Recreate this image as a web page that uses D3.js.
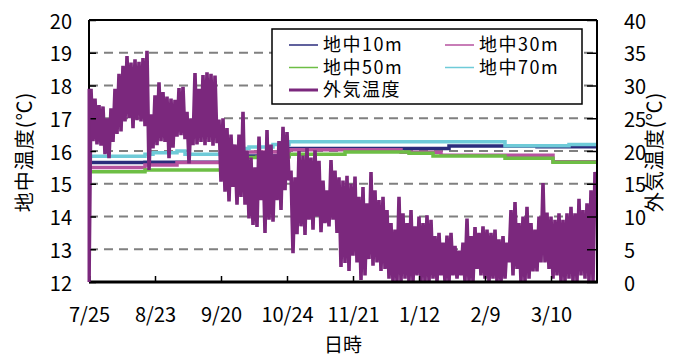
<!DOCTYPE html>
<html><head><meta charset="utf-8">
<script src="https://cdn.jsdelivr.net/npm/d3@7/dist/d3.min.js"></script>
<style>
html,body{margin:0;padding:0;background:#fff;}
text{font-family:"Noto Sans CJK JP","Noto Sans",sans-serif;fill:#000;}
</style></head>
<body><svg id="c" width="678" height="358"></svg>
<script>
// ---- data ----
const tickLabels = ["7/25","8/23","9/20","10/24","11/21","1/12","2/9","3/10"];
const tickIndex = [0,33,66,99,132,165,198,231];
const leftTicks = [12,13,14,15,16,17,18,19,20];
const rightTicks = [0,5,10,15,20,25,30,35,40];
const seriesNames = ["地中10m","地中30m","地中50m","地中70m","外気温度"];

// outdoor temperature (right axis), one value per index step
const outdoor = [
0,29.5,21.5,28,21,27,20.8,26.8,19.5,25,
18.9,26.5,21.4,29.5,22.6,31.8,23,33,24.5,34.5,
25,33.5,23.5,34,24.7,33.6,24.5,34.2,23.8,35.3,
17.1,25.6,20.4,28.5,20.9,30.5,21.5,29,21.4,28.3,
18.9,28,20.5,27.8,22.2,29.6,22.4,29.8,21.8,26,
18.1,25,20.9,31.9,21,29.5,21.4,31.6,20.9,32,
21.4,31.8,20.8,31.5,21.2,24.8,15.3,25,13.8,23.5,
12.3,22.5,14.5,21,11.8,22.5,13,26,11.8,20,
9.7,19,8.7,17.5,8.4,22.2,12.5,20,7.5,23.2,
9.5,21,9.2,19.5,12.5,21.5,11,23.7,14,22.9,
15.5,17,4.4,16,7.3,20,8.5,19.3,7.2,20.5,
9.5,19,8,20.1,10,18.5,7.6,15.5,9,14,
8.5,18.6,9.5,17,7.5,16,2.3,15.5,2.9,16.2,
1.7,15,4,16.1,3,13,0.3,14.5,1,12,
3.5,16.8,2.5,14,3,12.5,1.7,13,2,11,
0.5,9,0,8,0,13,0,10.5,0.5,9,
0,11,0,8.5,1,10,0,9,0,10.2,
0,9.5,0.5,7,0,7.5,1,6,0,7.1,
0,7.5,1,5.5,0.5,4.8,1,6,0,9.7,
0,7,0,8.4,2,7.5,1,8.5,0.5,8,
0,7.5,0.5,8,0,6.5,0,7,0.5,6,
3,11,1,12.2,2,9,0,10,0,11.5,
0.5,9,1.6,8,1.6,10,3,15.1,3,10.6,
2,10,0.5,9.5,1,10.5,0,9.5,0,10.5,
0.5,11.5,0,10.5,0,12.7,1,11,0.5,12,
0,14,0,16.8,13
];

// ground temperatures (left axis), one value per 4 index steps
const g10 = [15.65,15.65,15.65,15.65,15.65,15.65,15.65,
15.66,15.66,15.66,15.66,15.66,15.66,15.66,15.66,15.66,15.66,
15.85,15.85,15.85,15.85,15.85,15.85,15.85,15.85,
16.08,16.08,16.08,16.08,16.08,16.08,16.08,16.08,16.08,16.08,16.08,16.08,16.08,16.08,16.08,16.08,16.08,16.08,16.08,16.08,
16.15,16.15,16.15,16.15,16.15,16.15,16.15,16.15,16.15,16.15,16.15,
16.13,16.13,16.13,16.13,16.13,16.13,16.13,16.13];
const g30 = [15.5,15.5,15.5,15.5,15.5,15.5,15.5,
15.57,15.57,15.57,15.57,
15.65,15.65,15.65,15.65,15.65,15.65,
15.97,15.97,15.97,15.97,15.97,15.97,15.97,15.97,
16.04,16.04,16.04,16.04,16.04,16.04,16.04,16.04,16.04,16.04,16.04,16.04,16.04,16.04,
15.96,15.96,15.96,15.96,15.96,
15.87,15.87,15.87,15.87,15.87,15.87,15.87,15.87,15.87,15.87,15.87,15.87,15.87,15.87,
15.67,15.67,15.67,15.67,15.67,15.67];
const g50 = [15.37,15.37,15.37,15.37,15.37,15.37,15.37,
15.42,15.42,15.42,15.42,15.42,15.42,15.42,15.42,15.42,15.42,
15.8,15.8,15.8,15.8,
15.82,15.82,15.82,15.82,
15.9,15.9,15.9,15.9,15.9,15.9,15.9,
15.97,15.97,15.97,15.97,15.97,15.97,15.97,15.97,
15.93,15.93,15.93,
15.85,15.85,15.85,15.85,15.85,15.85,15.85,15.85,15.85,
15.78,15.78,15.78,15.78,15.78,15.78,
15.66,15.66,15.66,15.66,15.66,15.66];
const g70 = [15.84,15.84,15.84,15.84,15.84,15.84,15.84,
15.9,
15.95,15.95,15.95,
16.0,
15.9,15.9,15.9,15.9,15.9,
16.08,16.08,16.08,
16.12,16.12,16.12,
16.2,16.2,
16.28,16.28,16.28,16.28,16.28,16.28,16.28,16.28,16.28,16.28,16.28,16.28,16.28,16.28,16.28,16.28,16.28,16.28,16.28,16.28,16.28,16.28,16.28,16.28,16.28,16.28,16.28,
16.16,16.16,16.16,16.16,16.16,16.16,16.16,16.16,
16.2,16.2,16.2,16.2];
const groundStep = 4;

// ---- drawing ----
const svg = d3.select("#c");
const L=89, R=597, T=20, B=282;
const x = d3.scaleLinear().domain([0, outdoor.length-1]).range([L,R]);
const yL = d3.scaleLinear().domain([12,20]).range([B,T]);
const yR = d3.scaleLinear().domain([0,40]).range([B,T]);
const colors = ["#2B2C7C","#B6529F","#6DBE45","#6FCBD8","#7B287D"];
const FONT = 20;

svg.append("defs").append("clipPath").attr("id","clip")
  .append("rect").attr("x",L).attr("y",T).attr("width",R-L).attr("height",B-T);

// gridlines
svg.append("g").selectAll("line").data(leftTicks.filter(d=>d>12 && d<20)).join("line")
  .attr("x1",L).attr("x2",R).attr("y1",d=>yL(d)).attr("y2",d=>yL(d))
  .attr("stroke","#808080").attr("stroke-width",2).attr("stroke-dasharray","9,6");

// ground series
const groundData = [g10,g30,g50,g70];
const gLine = d3.line().x(d=>x(d[0])).y(d=>yL(d[1])).curve(d3.curveStepAfter);
const dataG = svg.append("g").attr("clip-path","url(#clip)");
groundData.forEach((arr,k)=>{
  const pts = arr.map((v,j)=>[j*groundStep, v]);
  pts.push([outdoor.length-1, arr[arr.length-1]]);
  dataG.append("path").attr("d",gLine(pts)).attr("fill","none")
    .attr("stroke",colors[k]).attr("stroke-width",3.5);
});

// outdoor
const oLine = d3.line().x((d,i)=>x(i)).y(d=>yR(d));
dataG.append("path").attr("d",oLine(outdoor)).attr("fill","none")
  .attr("stroke",colors[4]).attr("stroke-width",3.6).attr("stroke-linejoin","miter").attr("stroke-miterlimit",2);

// frame
svg.append("line").attr("x1",L).attr("x2",R).attr("y1",T).attr("y2",T).attr("stroke","#000").attr("stroke-width",2);
svg.append("line").attr("x1",R).attr("x2",R).attr("y1",T).attr("y2",B).attr("stroke","#000").attr("stroke-width",2);

// axes
const axL = svg.append("g").attr("transform",`translate(${L},0)`)
  .call(d3.axisLeft(yL).tickValues(leftTicks).tickSize(-7).tickPadding(17).tickFormat(d3.format("d")));
const axR = svg.append("g").attr("transform",`translate(${R},0)`)
  .call(d3.axisRight(yR).tickValues(rightTicks).tickSize(-10).tickPadding(27).tickFormat(d3.format("d")));
const axB = svg.append("g").attr("transform",`translate(0,${B})`)
  .call(d3.axisBottom(x).tickValues(tickIndex).tickSize(-6).tickPadding(26).tickFormat((d,i)=>tickLabels[i]));
[axL,axR,axB].forEach(a=>{
  a.selectAll("text").style("font-size",FONT+"px").attr("fill","#000");
  a.selectAll(".tick line").attr("stroke","#000").attr("stroke-width",1.5);
});
axL.selectAll("text").attr("dy","0.4em");
axR.selectAll("text").attr("dy","0.4em");
axL.select(".domain").attr("stroke","#000").attr("stroke-width",2).attr("d",`M0,${T}V${B}`);
axR.select(".domain").remove();
axB.select(".domain").attr("stroke","#000").attr("stroke-width",3).attr("d",`M${L},0H${R+1}`);
// redraw outdoor start over left axis
svg.append("line").attr("x1",L).attr("x2",L).attr("y1",yR(outdoor[1])).attr("y2",B)
  .attr("stroke",colors[4]).attr("stroke-width",3);

// axis titles
svg.append("text").attr("transform","translate(32,152) rotate(-90)").attr("text-anchor","middle")
  .style("font-size",FONT+"px").style("letter-spacing","1px").text("地中温度(℃)");
svg.append("text").attr("transform","translate(662,152) rotate(-90)").attr("text-anchor","middle")
  .style("font-size",FONT+"px").style("letter-spacing","1px").text("外気温度(℃)");
svg.append("text").attr("x",343).attr("y",352).attr("text-anchor","middle")
  .style("font-size","19px").text("日時");

// legend
const lg = svg.append("g");
lg.append("rect").attr("x",272).attr("y",29).attr("width",310).attr("height",75)
  .attr("fill","#fff").attr("stroke","#000").attr("stroke-width",1.5);
const legPos = [[289,45],[445,45],[289,67.5],[445,67.5],[289,90]];
seriesNames.forEach((n,k)=>{
  const [lx,ly] = legPos[k];
  lg.append("line").attr("x1",lx).attr("x2",lx+29).attr("y1",ly).attr("y2",ly)
    .attr("stroke",colors[k]).attr("stroke-width",k===4?3:1.5);
  lg.append("text").attr("x",lx+34).attr("y",ly).attr("dy","0.36em")
    .style("font-size","18px").style("letter-spacing","1.5px").text(n);
});
</script></body></html>
